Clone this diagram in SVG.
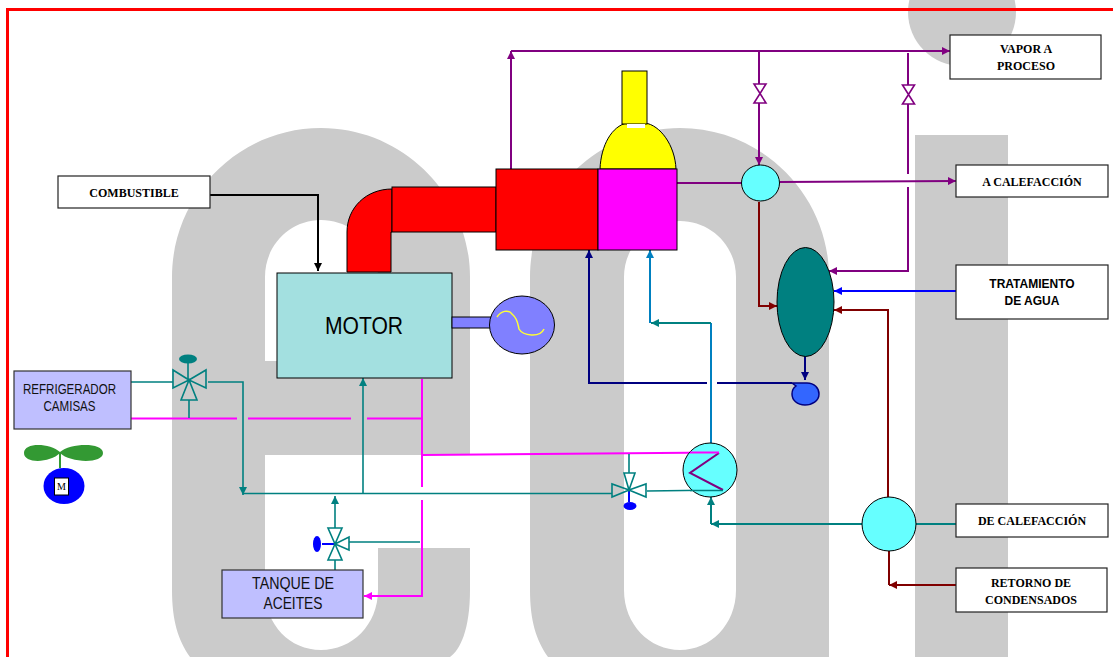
<svg xmlns="http://www.w3.org/2000/svg" width="1113" height="657" viewBox="0 0 1113 657">
<style>
.ln{fill:none;stroke-width:2}
.th{stroke-width:1.6}
.teal{stroke:#008080}.pur{stroke:#800080}.mar{stroke:#800000}.navy{stroke:#000080}.blu{stroke:#0000ff}.mag{stroke:#ff00ff}.cy{stroke:#0080c0}.blk{stroke:#000}
.box{fill:#fff;stroke:#222;stroke-width:1.2}
.eq{fill:#bfbfff;stroke:#333;stroke-width:1.2}
.o{stroke:#000;stroke-width:1}
.lab{font:bold 12px "Liberation Serif",serif;fill:#000;text-anchor:middle}
.lab2{font:bold 12px "Liberation Sans",sans-serif;fill:#000;text-anchor:middle}
.eqt{font:15px "Liberation Sans",sans-serif;fill:#111;text-anchor:middle}
.eqb{font:16.500px "Liberation Sans",sans-serif;fill:#111;text-anchor:middle}
.vt{fill:none;stroke:#008080;stroke-width:1.6}
.vp{fill:none;stroke:#800080;stroke-width:1.6}
</style>
<defs>
<marker id="aT" markerWidth="10" markerHeight="8" refX="8" refY="4" orient="auto" markerUnits="userSpaceOnUse"><path d="M0 0L8 4L0 8Z" fill="#008080"/></marker>
<marker id="aP" markerWidth="10" markerHeight="8" refX="8" refY="4" orient="auto" markerUnits="userSpaceOnUse"><path d="M0 0L8 4L0 8Z" fill="#800080"/></marker>
<marker id="aM" markerWidth="10" markerHeight="8" refX="8" refY="4" orient="auto" markerUnits="userSpaceOnUse"><path d="M0 0L8 4L0 8Z" fill="#800000"/></marker>
<marker id="aN" markerWidth="10" markerHeight="8" refX="8" refY="4" orient="auto" markerUnits="userSpaceOnUse"><path d="M0 0L8 4L0 8Z" fill="#000080"/></marker>
<marker id="aB" markerWidth="10" markerHeight="8" refX="8" refY="4" orient="auto" markerUnits="userSpaceOnUse"><path d="M0 0L8 4L0 8Z" fill="#0000ff"/></marker>
<marker id="aG" markerWidth="10" markerHeight="8" refX="8" refY="4" orient="auto" markerUnits="userSpaceOnUse"><path d="M0 0L8 4L0 8Z" fill="#ff00ff"/></marker>
<marker id="aC" markerWidth="10" markerHeight="8" refX="8" refY="4" orient="auto" markerUnits="userSpaceOnUse"><path d="M0 0L8 4L0 8Z" fill="#0080c0"/></marker>
<marker id="aK" markerWidth="10" markerHeight="8" refX="8" refY="4" orient="auto" markerUnits="userSpaceOnUse"><path d="M0 0L8 4L0 8Z" fill="#000"/></marker>
</defs>
<rect width="1113" height="657" fill="#fff"/>
<g id="watermark" fill="#cbcbcb">
<path fill-rule="evenodd" d="M172 277C172 195 239 128 321 128C403 128 470 195 470 277V455H265V590C265 625 290 650 321 650C352 650 378 625 378 590V548H470V590C470 630 460 650 450 657H190C178 640 172 620 172 590ZM265 361H378V277C378 245 352 220 321 220C290 220 265 245 265 277Z"/>
<path fill-rule="evenodd" d="M530 277C530 195 597 128 680 128C762 128 829 195 829 277V657H548C536 640 530 620 530 590ZM624 277V590C624 625 650 650 680 650C710 650 736 625 736 590V277C736 245 710 221 680 221C650 221 624 245 624 277Z"/>
<rect x="915" y="135" width="93" height="522"/>
<circle cx="962" cy="12" r="54"/>
</g>
<g id="frame" fill="none" stroke="#ff0000" stroke-width="3"><path d="M7.500 657V9.500H1113"/></g>
<g id="connectors">
<path class="ln blk" d="M210 195H318V271" marker-end="url(#aK)"/>
<path class="ln pur" d="M511 169V51" marker-end="url(#aP)"/>
<path class="ln pur" d="M511 51H950" marker-end="url(#aP)"/>
<path class="ln pur" d="M759 51V84M759 103V165" marker-end="url(#aP)"/>
<path class="ln pur" d="M908 53V85M908 104V174M908 187V271H829" marker-end="url(#aP)"/>
<path class="ln pur" d="M677 183H742"/>
<path class="ln pur" d="M780 182L956 181" marker-end="url(#aP)"/>
<path class="ln mar" d="M759 202V306H777" marker-end="url(#aM)"/>
<path class="ln blu" d="M956 291H834" marker-end="url(#aB)"/>
<path class="ln mar" d="M888 497V310H834" marker-end="url(#aM)"/>
<path class="ln navy" d="M805 356V380" marker-end="url(#aN)"/>
<path class="ln navy" d="M792 383H717M707 383H589V250" marker-end="url(#aN)"/>
<path class="ln cy" d="M711 443V323"/>
<path class="ln teal" d="M711 323H651" marker-end="url(#aT)"/>
<path class="ln cy" d="M650 323V250" marker-end="url(#aC)"/>
<path class="ln mag" d="M422 455L719 452.500"/>
<path class="ln mag" d="M131 418.500H237M248 418.500H351M367 418.500H422"/>
<path class="ln mag" d="M422 379V487M422 500V596H364" marker-end="url(#aG)"/>
<path class="ln th teal" d="M131 382H173M208 382H243V495" marker-end="url(#aT)"/>
<path class="ln th teal" d="M243 493.500H612"/>
<path class="ln th teal" d="M363 493V378" marker-end="url(#aT)"/>
<path class="ln th teal" d="M335 528V496" marker-end="url(#aT)"/>
<path class="ln th teal" d="M349 542H420M335 560V570"/>
<path class="ln th teal" d="M189 400V418M188 363V379"/>
<path class="ln th teal" d="M629 454V473M647 491L723 490"/>
<path class="ln teal" d="M862 524H711" marker-end="url(#aT)"/>
<path class="ln teal" d="M711 524V497" marker-end="url(#aT)"/>
<path class="ln teal" d="M916 524H956"/>
<path class="ln mar" d="M889 551V585"/>
<path class="ln mar" d="M956 585H889" marker-end="url(#aM)"/>
<path class="ln blu" d="M629 490V502M322 544H335"/>
</g>
<g id="motor"><rect x="277" y="273" width="175" height="105" fill="#a3e0e0" stroke="#000"/><text x="364" y="334" font-family="Liberation Sans,sans-serif" font-size="24" text-anchor="middle" textLength="78" lengthAdjust="spacingAndGlyphs">MOTOR</text></g>
<g id="exhaust">
<path class="o" fill="#ff0000" d="M347 272V232C347 208 366 189 392 189V232H391V272Z"/>
<rect class="o" x="392" y="187" width="104" height="45" fill="#ff0000"/>
</g>
<g id="boiler">
<rect class="o" x="496" y="169" width="102" height="81" fill="#ff0000"/>
<path class="o" fill="#ffff00" d="M600 169C601 145 612 126 627 123H645C660 125 675 145 676 169Z"/>
<rect class="o" x="622" y="71" width="25" height="53" fill="#ffff00"/>
<rect x="627" y="124" width="18" height="4" fill="#fff"/>
<rect class="o" x="598" y="169" width="79" height="81" fill="#ff00ff"/>
</g>
<g id="generator">
<rect class="o" x="452" y="317" width="39" height="11" fill="#8080ff"/>
<ellipse class="o" cx="522" cy="325" rx="32.500" ry="29" fill="#8080ff"/>
<path fill="none" stroke="#ffff33" stroke-width="1.500" d="M497 317C501 311 508 309 512 314C518 319 518 325 519 329C523 336 540 338 544 329"/>
</g>
<g id="refrigerador"><rect class="eq" x="14" y="371" width="117" height="58"/><text class="eqt" x="69.500" y="394" textLength="93" lengthAdjust="spacingAndGlyphs">REFRIGERADOR</text><text class="eqt" x="69.500" y="411" textLength="52" lengthAdjust="spacingAndGlyphs">CAMISAS</text></g>
<g id="valve-refrigerador">
<path class="vt" d="M189 380L173 370V388ZM189 380L206 370V388ZM189 380L181 400H197Z"/>
<ellipse cx="188" cy="359" rx="9" ry="4.500" fill="#008080"/>
</g>
<g id="fan">
<path d="M60 452C50 443 24 442 24 453C24 464 50 463 60 453C70 463 103 464 103 453C103 442 70 443 60 452Z" fill="#339933"/>
<rect x="59" y="453" width="2" height="15" fill="#339933"/>
<ellipse cx="64" cy="486" rx="20.500" ry="18" fill="#0000ff"/>
<rect x="54.500" y="478" width="14" height="17" fill="#fff" stroke="#000"/>
<text x="61.500" y="490" font-family="Liberation Serif,serif" font-size="10" text-anchor="middle">M</text>
</g>
<g id="valve-tanque">
<path class="vt" d="M335 544L328 528H342ZM335 544L328 560H342ZM335 544L349 537V550Z"/>
<ellipse cx="317" cy="544" rx="4" ry="8" fill="#0000ff"/>
</g>
<g id="tanque"><rect class="eq" x="222" y="570" width="141" height="48"/><text class="eqb" x="293" y="589" textLength="82" lengthAdjust="spacingAndGlyphs">TANQUE DE</text><text class="eqb" x="293" y="609" textLength="59" lengthAdjust="spacingAndGlyphs">ACEITES</text></g>
<g id="valve-exchanger">
<path class="vt" d="M629 490L624 473H635ZM629 490L612 484V497ZM629 490L646 484V497Z"/>
<ellipse cx="630" cy="506" rx="6.500" ry="4" fill="#0000ff"/>
</g>
<g id="exchanger">
<circle class="o" cx="710" cy="470" r="27" fill="#66ffff"/>
<path fill="none" stroke="#800080" stroke-width="2" d="M719 453L690 473L723 490"/>
<path class="ln mag" d="M690 452.500H719"/><path class="ln th teal" d="M690 490.500H723"/>
</g>
<g id="circle-top"><ellipse class="o" cx="760.500" cy="183" rx="19" ry="18" fill="#66ffff"/></g>
<g id="tank"><ellipse class="o" cx="805.500" cy="302" rx="28.500" ry="54.500" fill="#008080"/></g>
<g id="pump"><path fill="#3366ff" stroke="#000080" stroke-width="1.500" d="M792 383H805C815 382 819 389 819 394C819 401 812 405 805 405C797 405 792 400 792 394C792 390 793 388 796 386Z"/></g>
<g id="circle-bottom"><circle class="o" cx="889" cy="524" r="27" fill="#66ffff"/></g>
<g id="valve-1"><path class="vp" d="M754 84H766L754 103H766Z"/></g>
<g id="valve-2"><path class="vp" d="M902.500 85H914.500L902.500 104H914.500Z"/></g>
<g id="combustible"><rect class="box" x="58" y="176" width="152" height="32"/><text class="lab" x="134" y="197">COMBUSTIBLE</text></g>
<g id="vapor"><rect class="box" x="950" y="35" width="151" height="44"/><text class="lab" x="1026" y="53">VAPOR A</text><text class="lab" x="1026" y="70">PROCESO</text></g>
<g id="a-calefaccion"><rect class="box" x="956" y="165" width="152" height="32"/><text class="lab" x="1032" y="186">A CALEFACCIÓN</text></g>
<g id="tratamiento"><rect class="box" x="956" y="265" width="152" height="54"/><text class="lab2" x="1032" y="288">TRATAMIENTO</text><text class="lab2" x="1032" y="305">DE AGUA</text></g>
<g id="de-calefaccion"><rect class="box" x="956" y="504" width="152" height="33"/><text class="lab" x="1032" y="525">DE CALEFACCIÓN</text></g>
<g id="retorno"><rect class="box" x="956" y="568" width="151" height="44"/><text class="lab" x="1031" y="587">RETORNO DE</text><text class="lab" x="1031" y="604">CONDENSADOS</text></g>
</svg>
